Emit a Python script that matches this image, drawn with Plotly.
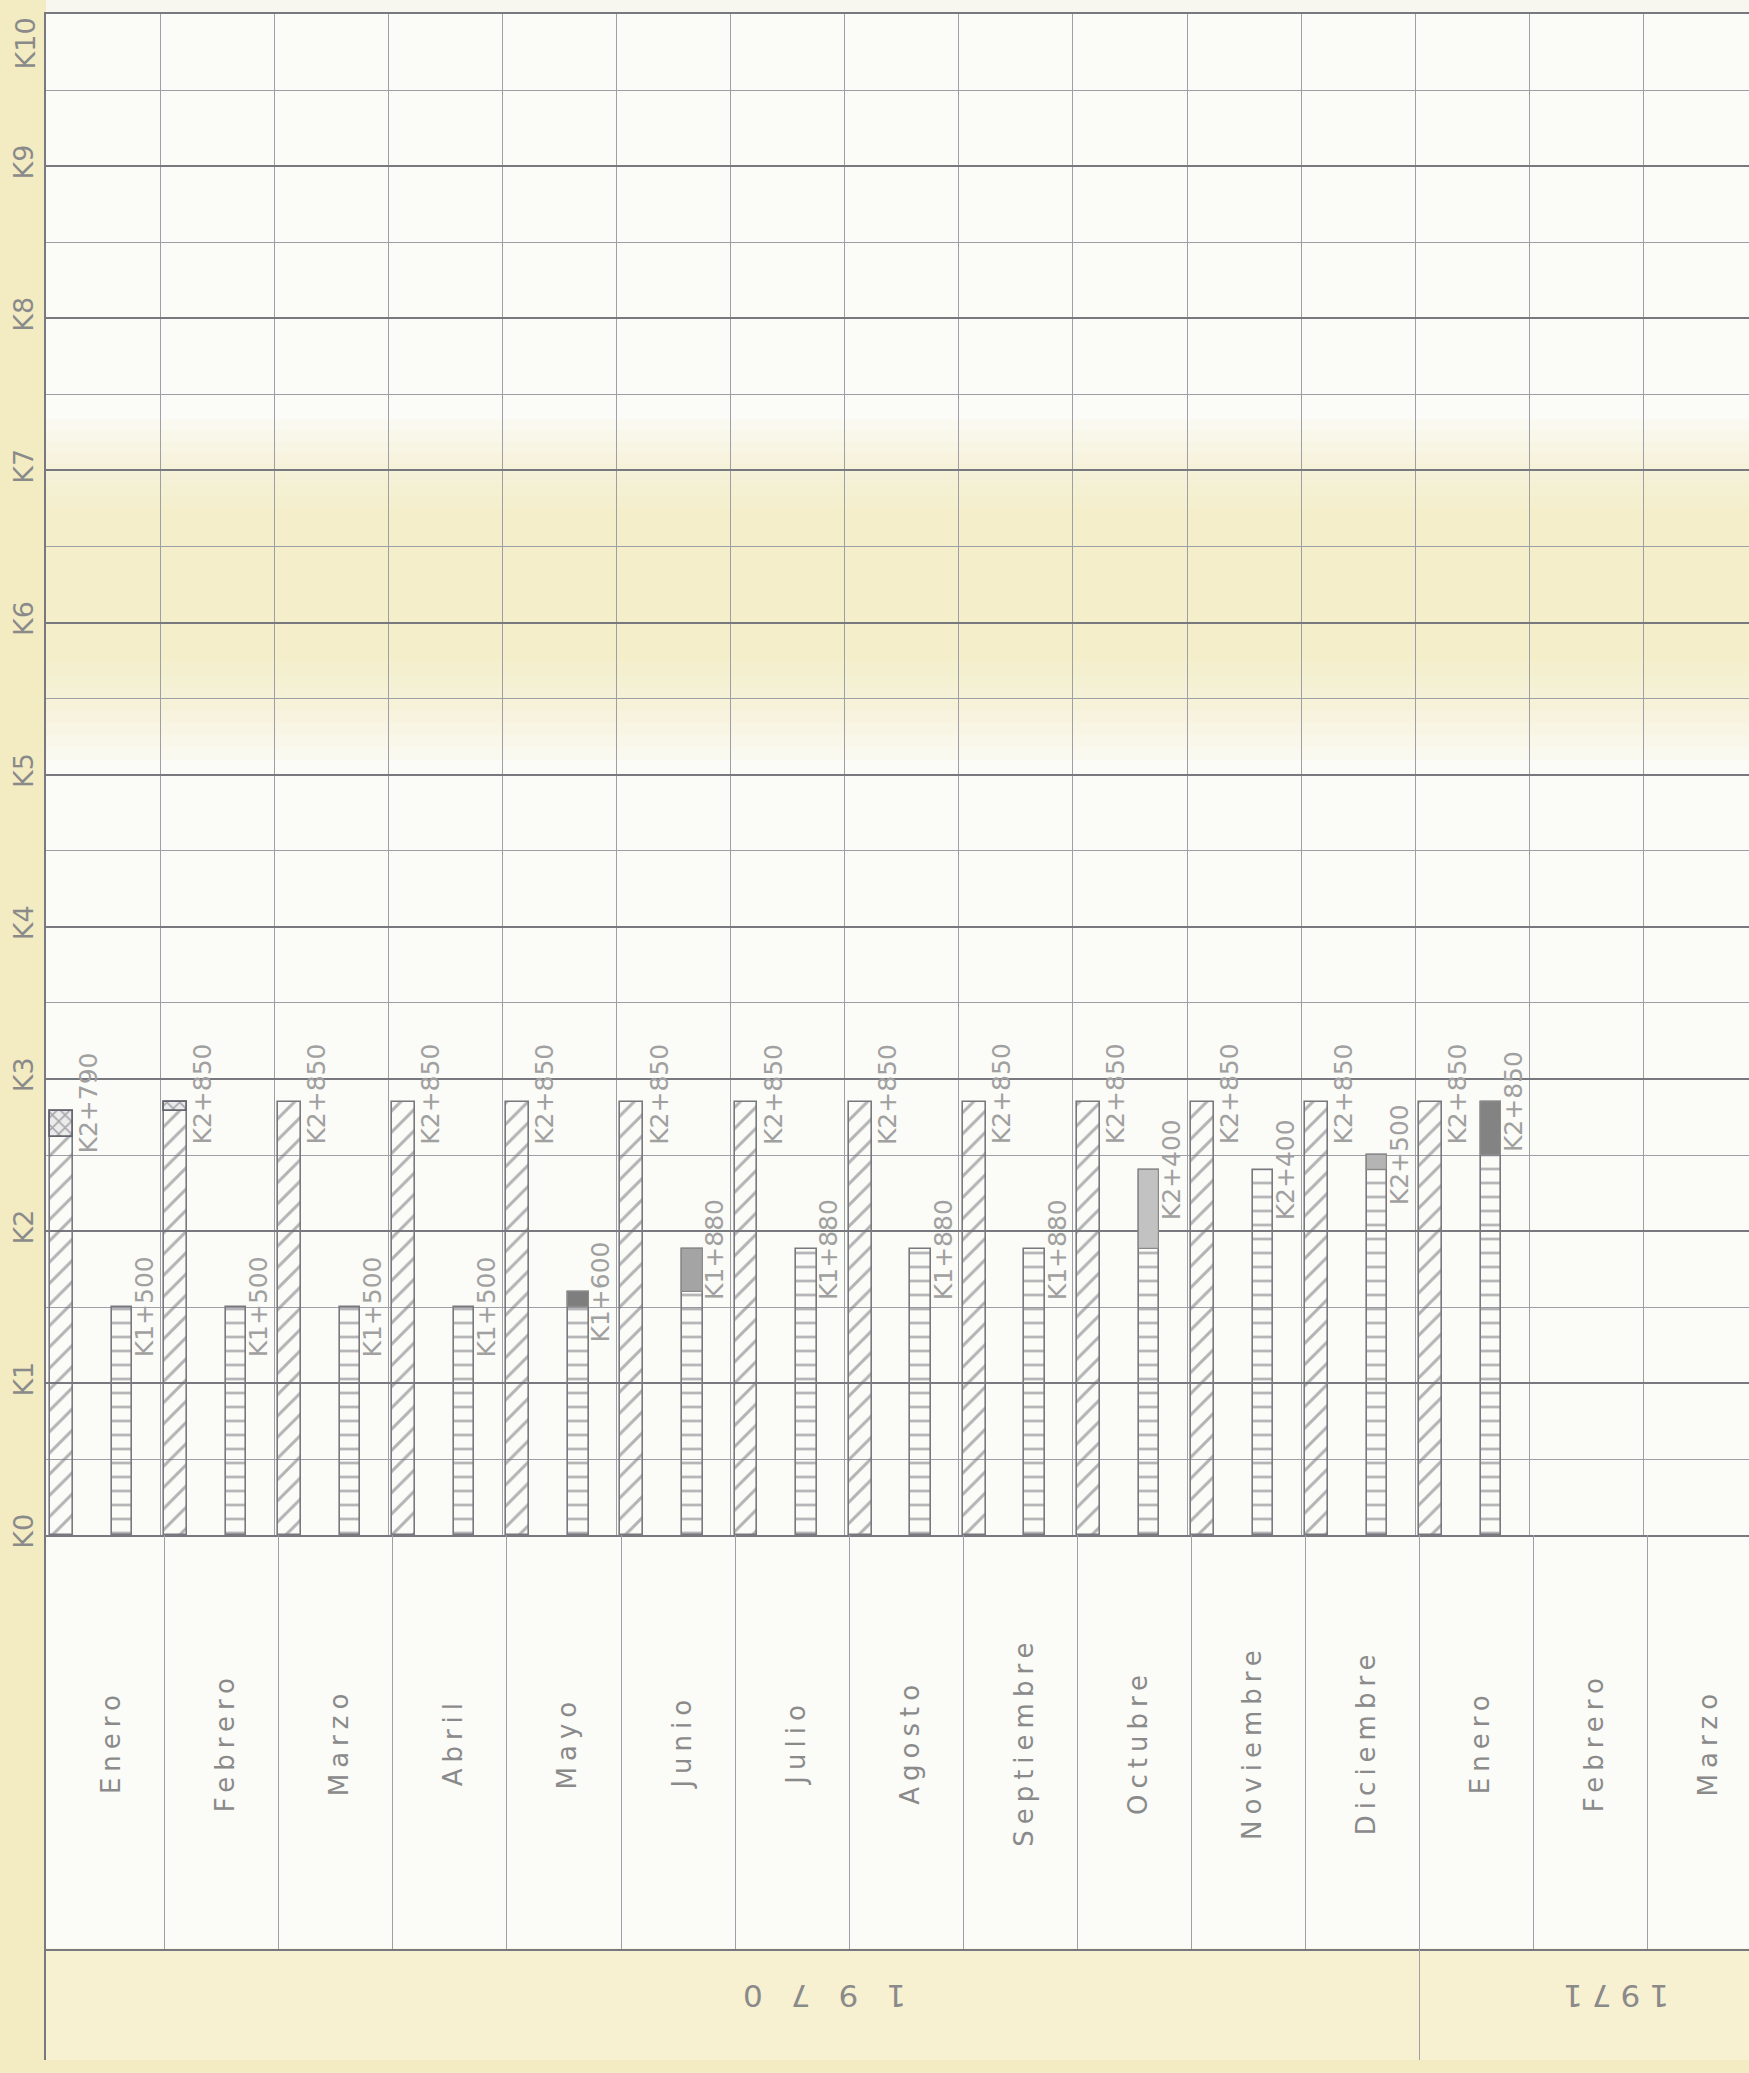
import plotly.graph_objects as go

# ---------------- data ----------------
months = ["Enero", "Febrero", "Marzo", "Abril", "Mayo", "Junio", "Julio", "Agosto",
          "Septiembre", "Octubre", "Noviembre", "Diciembre", "Enero", "Febrero", "Marzo"]
years = ["1970", "1971"]
year_start_index = [0, 12]

# y axis in kilometres: K0 .. K10
k_ticks = list(range(0, 10))
k_labels = ["K0", "K1", "K2", "K3", "K4", "K5", "K6", "K7", "K8", "K9"]
k_top_value, k_top_label = 10, "K10"

# programmed / reached chainage (hatched bars), km
hatched_months = [0, 1, 2, 3, 4, 5, 6, 7, 8, 9, 10, 11, 12]
hatched_km = [2.79, 2.85, 2.85, 2.85, 2.85, 2.85, 2.85, 2.85, 2.85, 2.85, 2.85, 2.85, 2.85]
hatched_text = ["K2+790", "K2+850", "K2+850", "K2+850", "K2+850", "K2+850", "K2+850",
                "K2+850", "K2+850", "K2+850", "K2+850", "K2+850", "K2+850"]
# monthly increment of the hatched bars (crossed boxes)
hatched_inc_months = [0, 1]
hatched_inc_from = [2.62, 2.79]
hatched_inc_to = [2.79, 2.85]

# second series (horizontally striped bars), km
striped_months = [0, 1, 2, 3, 4, 5, 6, 7, 8, 9, 10, 11, 12]
striped_km = [1.50, 1.50, 1.50, 1.50, 1.60, 1.88, 1.88, 1.88, 1.88, 2.40, 2.40, 2.50, 2.85]
striped_text = ["K1+500", "K1+500", "K1+500", "K1+500", "K1+600", "K1+880", "K1+880",
                "K1+880", "K1+880", "K2+400", "K2+400", "K2+500", "K2+850"]
# monthly increment of the striped bars (shaded tops)
striped_inc_months = [4, 5, 9, 11, 12]
striped_inc_from = [1.50, 1.60, 1.88, 2.40, 2.50]
striped_inc_to = [1.60, 1.88, 2.40, 2.50, 2.85]
striped_inc_shade = ["#7e7e7e", "#a4a4a4", "#c2c2c2", "#b4b4b4", "#838383"]

# ---------------- styles ----------------
INK = "#78787f"
INK_LIGHT = "#9e9ea6"
TEXT = "#8a8a8a"
LABEL = "#a0a0a0"
PAPER = "#f3ecc2"

HATCH_OFF, HATCH_W = 0.135, 0.20
STRIPE_OFF, STRIPE_W = 0.665, 0.18

H, W = 2073, 1749
LEFT = 46
top, k0_px, table_bottom_px = 14, 1545, 1961
X_MAX = (W - LEFT) / 114.1

fig = go.Figure()

fig.add_trace(go.Bar(
    x=[m + HATCH_OFF for m in hatched_months], y=hatched_km, width=HATCH_W,
    marker=dict(color="rgba(0,0,0,0)",
                line=dict(color=INK, width=1.6),
                pattern=dict(shape="/", fgcolor="#6c6c75", bgcolor="rgba(0,0,0,0)",
                             size=15, solidity=0.2)),
    name="Programado", hoverinfo="skip"))

fig.add_trace(go.Bar(
    x=[m + HATCH_OFF for m in hatched_inc_months],
    base=hatched_inc_from,
    y=[t - f for f, t in zip(hatched_inc_from, hatched_inc_to)], width=HATCH_W,
    marker=dict(color="#ececec",
                line=dict(color="#666670", width=1.8),
                pattern=dict(shape="x", fgcolor="#5e5e68", bgcolor="#ececec",
                             size=9, solidity=0.32)),
    name="Incremento programado", hoverinfo="skip"))

fig.add_trace(go.Bar(
    x=[m + STRIPE_OFF for m in striped_months], y=striped_km, width=STRIPE_W,
    marker=dict(color="rgba(0,0,0,0)",
                line=dict(color=INK, width=1.6),
                pattern=dict(shape="-", fgcolor="#72727a", bgcolor="rgba(0,0,0,0)",
                             size=14, solidity=0.2)),
    name="Ejecutado", hoverinfo="skip"))

fig.add_trace(go.Bar(
    x=[m + STRIPE_OFF for m in striped_inc_months],
    base=striped_inc_from,
    y=[t - f for f, t in zip(striped_inc_from, striped_inc_to)], width=STRIPE_W,
    marker=dict(color=striped_inc_shade, line=dict(color="#8a8a8a", width=1.2)),
    name="Incremento mensual", hoverinfo="skip"))

annotations = []
for m, v, t in zip(hatched_months, hatched_km, hatched_text):
    annotations.append(dict(x=m + 0.37, y=v + 0.05, xref="x", yref="y", text=t,
                            textangle=-90, showarrow=False, xanchor="center", yanchor="middle",
                            font=dict(family="DejaVu Sans", size=25, color=LABEL)))
for m, v, t in zip(striped_months, striped_km, striped_text):
    annotations.append(dict(x=m + 0.86, y=v, xref="x", yref="y", text=t,
                            textangle=-90, showarrow=False, xanchor="center", yanchor="middle",
                            font=dict(family="DejaVu Sans", size=25, color=LABEL)))
# top tick label sits just under the K10 line
annotations.append(dict(x=0, y=k_top_value, xref="paper", yref="y", text=k_top_label,
                        textangle=-90, showarrow=False, xanchor="right", yanchor="top",
                        xshift=-4, yshift=-2,
                        font=dict(family="DejaVu Sans", size=27, color=TEXT)))
for i, name in enumerate(months):
    annotations.append(dict(x=i + 0.53, y=0.5, xref="x2", yref="y2",
                            text='<span style="letter-spacing:6px">' + name + '</span>',
                            textangle=-90, showarrow=False, xanchor="center", yanchor="middle",
                            font=dict(family="DejaVu Sans", size=26, color=TEXT)))
year_centres = [6.66, 13.68]
year_spacing = [28, 9]
for yr, xc, sp in zip(years, year_centres, year_spacing):
    annotations.append(dict(x=xc, y=0.58, xref="x3", yref="y3",
                            text='<span style="letter-spacing:%dpx">%s</span>' % (sp, yr),
                            textangle=180, showarrow=False, xanchor="center", yanchor="middle",
                            font=dict(family="DejaVu Sans", size=31, color=TEXT)))

shapes = []
# soft yellow band of the aged paper
n_layers = 9
for j in range(n_layers):
    half = 1.15 - j * 0.08
    shapes.append(dict(type="rect", xref="x domain", yref="y", x0=0, x1=1,
                       y0=6.25 - half, y1=6.3 + half * 0.9,
                       fillcolor="rgba(243,232,176,0.085)", line=dict(width=0), layer="below"))
# yellowish year strip and white strip above the grid
shapes.append(dict(type="rect", xref="x3 domain", yref="y3 domain", x0=0, x1=1, y0=0, y1=1,
                   fillcolor="rgba(245,237,196,0.75)", line=dict(width=0), layer="below"))
shapes.append(dict(type="rect", xref="paper", yref="paper", x0=0, x1=1, y0=1, y1=1.01,
                   fillcolor="#f8f7ef", line=dict(width=0), layer="below"))

plot_h = H - top
dom_main = (H - k0_px) / plot_h
dom_table = (H - table_bottom_px) / plot_h

fig.update_layout(
    width=W, height=H,
    margin=dict(l=LEFT, r=0, t=top, b=0, pad=0),
    paper_bgcolor=PAPER, plot_bgcolor="#fbfbf7",
    barmode="overlay", showlegend=False, bargap=0,
    annotations=annotations, shapes=shapes,
    font=dict(family="DejaVu Sans", color=TEXT),
    xaxis=dict(domain=[0, 1], anchor="y", range=[0, X_MAX], tickvals=list(range(1, 15)),
               showticklabels=False, ticks="", showgrid=True, gridcolor=INK_LIGHT, gridwidth=1.3,
               zeroline=False, showline=True, linecolor=INK, linewidth=2, mirror=True),
    yaxis=dict(domain=[dom_main, 1], anchor="x", range=[0, 10], tickvals=k_ticks, ticktext=k_labels,
               tickangle=-90, ticks="", tickfont=dict(family="DejaVu Sans", size=27, color=TEXT),
               ticklabeloverflow="allow",
               showgrid=True, gridcolor=INK, gridwidth=1.8, zeroline=False,
               showline=True, linecolor=INK, linewidth=2,
               minor=dict(tickvals=[k + 0.5 for k in range(10)], showgrid=True,
                          gridcolor=INK_LIGHT, gridwidth=1.3, ticks="")),
    xaxis2=dict(domain=[0, 1], anchor="y2", range=[-0.04, X_MAX - 0.04], tickvals=list(range(1, 15)),
                showticklabels=False, ticks="", showgrid=True, gridcolor=INK_LIGHT, gridwidth=1.3,
                zeroline=False, showline=True, linecolor=INK, linewidth=2),
    yaxis2=dict(domain=[dom_table, dom_main], anchor="x2", range=[0, 1], showticklabels=False,
                ticks="", showgrid=False, zeroline=False, showline=True, linecolor=INK, linewidth=2),
    xaxis3=dict(domain=[0, 1], anchor="y3", range=[-0.04, X_MAX - 0.04], tickvals=[year_start_index[1]],
                showticklabels=False, ticks="", showgrid=True, gridcolor=INK_LIGHT, gridwidth=1.3,
                zeroline=False, showline=False),
    yaxis3=dict(domain=[0, dom_table], anchor="x3", range=[0, 1], showticklabels=False,
                ticks="", showgrid=False, zeroline=False, showline=True, linecolor=INK, linewidth=2),
)

fig.write_html("out.html", config={"displayModeBar": False},
               post_script="document.body.style.margin='0';document.body.style.overflow='hidden';"
                           "document.body.style.background='%s';" % PAPER)
